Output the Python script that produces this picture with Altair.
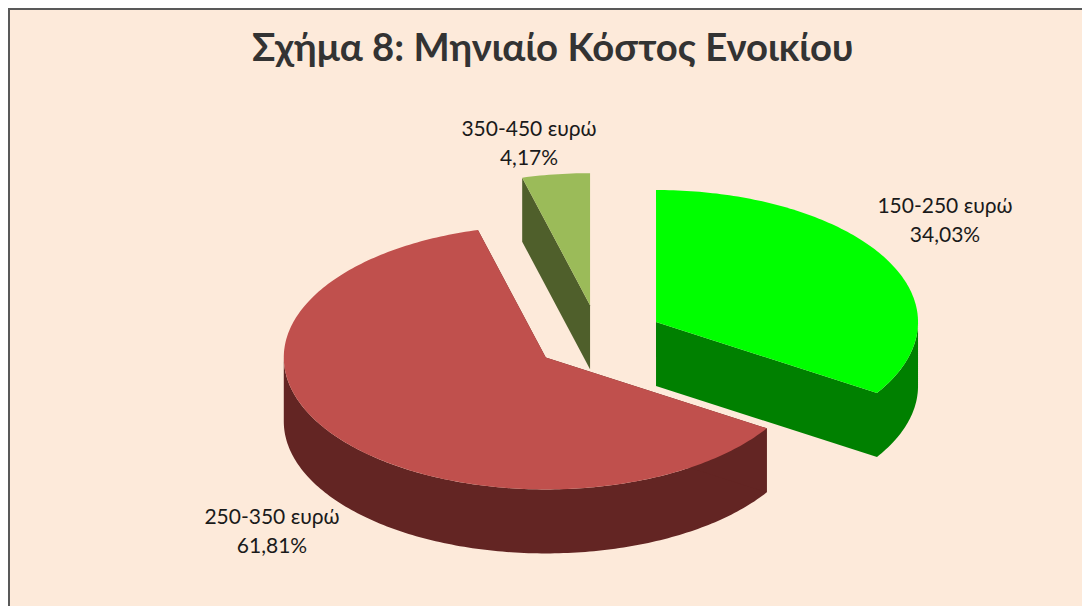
import math
import altair as alt

# ---- data ----
TITLE = "Σχήμα 8: Μηνιαίο Κόστος Ενοικίου"
categories = ["150-250 ευρώ", "250-350 ευρώ", "350-450 ευρώ"]
shares = [34.03, 61.81, 4.17]

# ---- style ----
top_colors = ["#00FF00", "#C0504D", "#9BBB59"]
side_colors = ["#008000", "#632523", "#4F5F2B"]
BG = "#FDEADA"
FONT = "Lato"

# ---- layout of the tilted pie, in plot pixels ----
W, H = 1074, 598
CX, CY = 590.6, 329.9   # pie centre before the slices are pulled out
RX, RY = 262.0, 132.0   # ellipse radii of the tilted disc
DEPTH = 64.0            # height of the disc wall
EXPLODE = 0.25          # share of the radius every slice is pulled out
label_anchor = [(937, 199), (264, 510), (521, 122)]  # first line centre


def disc(center, theta):
    return [center[0] + RX * math.sin(theta), center[1] - RY * math.cos(theta)]


def feature(ring, fill):
    ring = [list(p) for p in ring]
    ring.append(ring[0])
    return {"type": "Feature", "properties": {"fill": fill},
            "geometry": {"type": "Polygon", "coordinates": [ring]}}


def arc_points(center, a, b):
    n = max(int((b - a) * 60), 2)
    return [disc(center, a + (b - a) * i / n) for i in range(n + 1)]


def down(p):
    return [p[0], p[1] + DEPTH]


total = sum(shares)
walls, tops = [], []
start = 0.0
for value, top, side in zip(shares, top_colors, side_colors):
    sweep = value / total * 2 * math.pi
    end = start + sweep
    mid = start + sweep / 2
    c = (CX + EXPLODE * RX * math.sin(mid), CY - EXPLODE * RY * math.cos(mid))
    # outer wall: only the part of the rim that faces the viewer
    a, b = max(start, math.pi / 2), min(end, 3 * math.pi / 2)
    if b > a:
        front = arc_points(c, a, b)
        walls.append(feature(front + [down(p) for p in reversed(front)], side))
    # the two cut faces
    arc = arc_points(c, start, end)
    for edge in (arc[0], arc[-1]):
        walls.append(feature([c, edge, down(edge), down(c)], side))
    tops.append(feature([c] + arc, top))
    start = end

pie = (
    alt.Chart(alt.Data(values=walls + tops))
    .mark_geoshape(strokeWidth=0, clip=False)
    .encode(fill=alt.Fill("properties.fill:N", scale=None, legend=None))
    .project(type="identity", scale=1, translate=[0, 0])
)

labels = []
for name, value, (x, y) in zip(categories, shares, label_anchor):
    text = f"{name}\n{value:.2f}%".replace(".", ",")
    labels.append(
        alt.Chart(alt.Data(values=[{"label": text}]))
        .mark_text(font=FONT, fontSize=21, color="#1A1A1A", lineBreak="\n",
                   lineHeight=29, align="center", baseline="middle")
        .encode(text="label:N", x=alt.value(x), y=alt.value(y))
    )

frame_left = (
    alt.Chart(alt.Data(values=[{}]))
    .mark_rule(color="#595959", strokeWidth=2)
    .encode(x=alt.value(1), y=alt.value(0), y2=alt.value(H))
)
frame_top = (
    alt.Chart(alt.Data(values=[{}]))
    .mark_rule(color="#595959", strokeWidth=2)
    .encode(y=alt.value(1), x=alt.value(0), x2=alt.value(W))
)

chart = (
    alt.layer(pie, frame_left, frame_top, *labels)
    .properties(
        width=W,
        height=H,
        padding=0,
        autosize=alt.AutoSizeParams(type="none"),
        background="white",
        title=alt.TitleParams(
            TITLE, font=FONT, fontSize=38.3, fontWeight="bold", color="#333333",
            anchor="start", frame="group", baseline="alphabetic", dx=244, dy=92, offset=0,
        ),
    )
    .configure_view(fill=BG, stroke=None)
)

chart.save("out.html", embed_options={"renderer": "svg", "actions": False})
